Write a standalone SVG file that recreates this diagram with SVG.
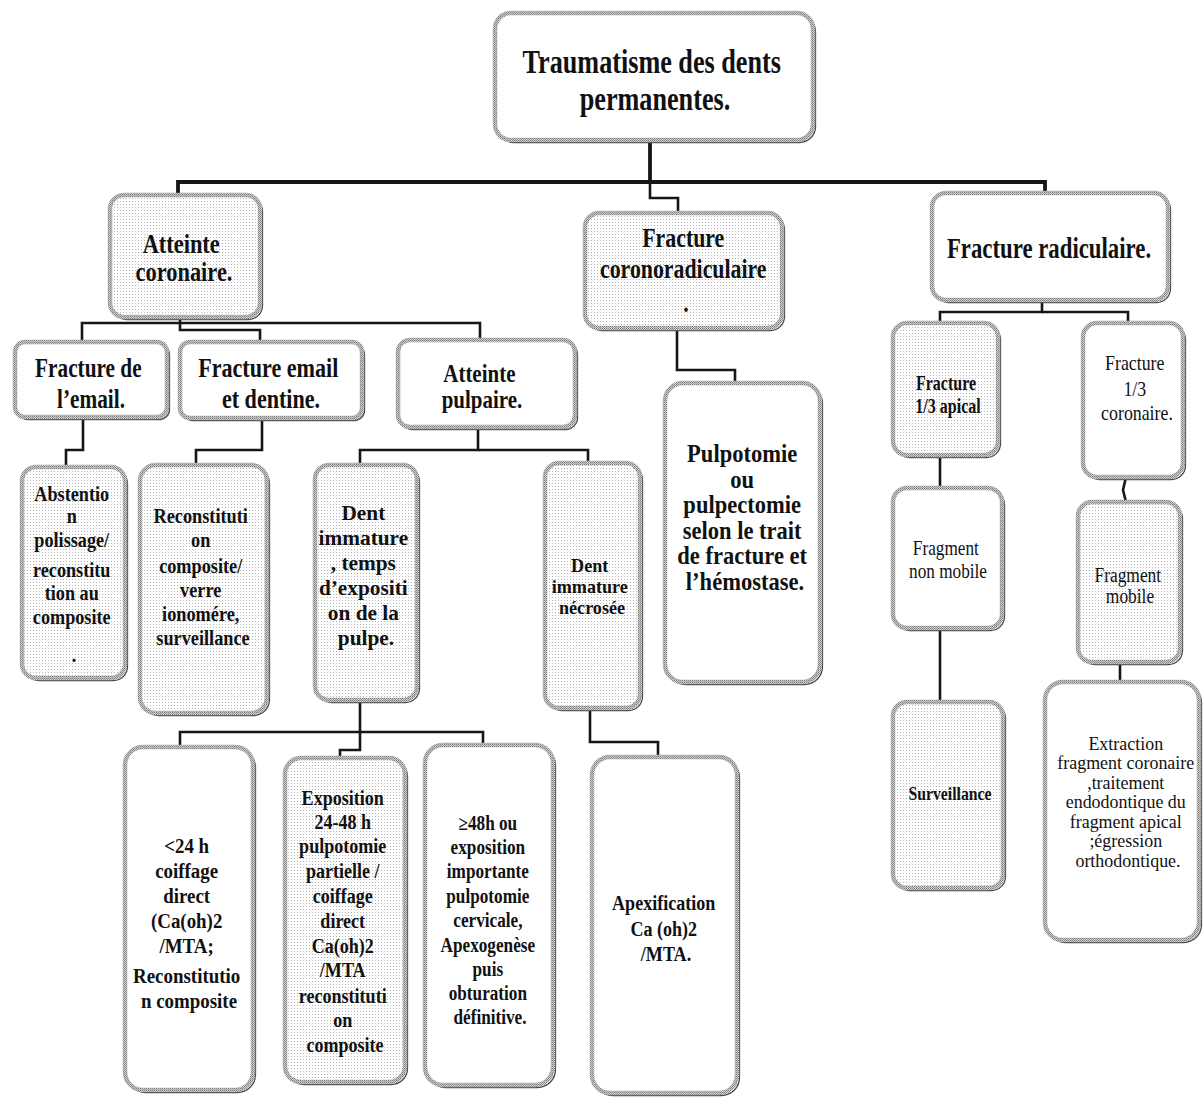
<svg xmlns="http://www.w3.org/2000/svg" width="1204" height="1097" viewBox="0 0 1204 1097">
  <defs>
    <!-- light halftone fill used by the shaded boxes -->
    <pattern id="dots" width="3" height="3" patternUnits="userSpaceOnUse">
      <rect width="3" height="3" fill="#ffffff"/>
      <rect width="1" height="1" fill="#b4b4b4"/>
    </pattern>
    <!-- grainy grey used for the box borders -->
    <pattern id="grain" width="2" height="2" patternUnits="userSpaceOnUse">
      <rect width="2" height="2" fill="#cdcdcd"/>
      <rect width="1" height="1" fill="#7c7c7c"/>
      <rect x="1" y="1" width="1" height="1" fill="#9a9a9a"/>
    </pattern>
  </defs>
  <style>
    .shadow { fill: none; stroke: #4a4a4a; stroke-width: 1.3; }
    .box { stroke: url(#grain); stroke-width: 4.5; }
    .plain { fill: #ffffff; }
    .shaded { fill: url(#dots); }
    .t { font-family: "Liberation Serif", "Times New Roman", serif; font-weight: bold; text-anchor: middle; fill: #111111; }
    .reg { font-weight: normal; }
    .link { fill: none; stroke: #161616; stroke-width: 2.6; stroke-linejoin: miter; }
    .trunk { stroke-width: 3.8; }
  </style>
  <rect width="1204" height="1097" fill="#ffffff"/>

  <!-- connectors -->
  <g id="connectors">
    <path class="link trunk" d="M650,140 V182 H178 V195"/>
    <path class="link trunk" d="M650,182 H1045 V193"/>
    <path class="link" d="M650,182 V198 H678 V212"/>
    <path class="link" d="M180,317 V323 H82 V342"/>
    <path class="link" d="M180,323 H480 V340"/>
    <path class="link" d="M180,323 V330 H260 V342"/>
    <path class="link" d="M83,417 V450 H66 V467"/>
    <path class="link" d="M262,418 V450 H196 V465"/>
    <path class="link" d="M478,427 V450 H360 V465"/>
    <path class="link" d="M478,450 H588 V463"/>
    <path class="link" d="M677,328 V370 H735 V383"/>
    <path class="link" d="M1042,300 V312 H940 V323"/>
    <path class="link" d="M1042,312 H1128 V323"/>
    <path class="link" d="M940,455 V488"/>
    <path class="link" d="M940,628 V702"/>
    <path class="link" d="M1126,477 L1123,490 L1126,502"/>
    <path class="link" d="M1120,662 V682"/>
    <path class="link" d="M360,700 V732 H180 V747"/>
    <path class="link" d="M360,732 H483 V745"/>
    <path class="link" d="M360,732 V750 H340 V758"/>
    <path class="link" d="M590,708 V742 H658 V757"/>
  </g>

  <!-- root -->
  <g id="root">
    <rect class="shadow" x="497.5" y="15.5" width="318" height="127" rx="16"/>
    <rect class="box plain" x="495" y="13" width="318" height="127" rx="16"/>
    <text class="t" font-size="34" transform="translate(655 0) scale(0.77 1)">
      <tspan x="0" y="73">Traumatisme des dents</tspan>
      <tspan x="0" y="110">permanentes.</tspan>
    </text>
  </g>

  <g id="atteinte-coronaire">
    <rect class="shadow" x="112.5" y="197.5" width="150" height="122" rx="14"/>
    <rect class="box shaded" x="110" y="195" width="150" height="122" rx="14"/>
    <text class="t" font-size="27" transform="translate(184 0) scale(0.83 1)">
      <tspan x="0" y="253">Atteinte</tspan>
      <tspan x="0" y="281">coronaire.</tspan>
    </text>
  </g>

  <g id="fracture-coronoradiculaire">
    <rect class="shadow" x="587.5" y="215.5" width="197" height="115" rx="14"/>
    <rect class="box shaded" x="585" y="213" width="197" height="115" rx="14"/>
    <text class="t" font-size="28" transform="translate(686 0) scale(0.78 1)">
      <tspan x="0" y="247">Fracture</tspan>
      <tspan x="0" y="278">coronoradiculaire</tspan>
      <tspan x="0" y="312">.</tspan>
    </text>
  </g>

  <g id="fracture-radiculaire">
    <rect class="shadow" x="934.5" y="195.5" width="236" height="107" rx="14"/>
    <rect class="box plain" x="932" y="193" width="236" height="107" rx="14"/>
    <text class="t" font-size="30" transform="translate(1049 0) scale(0.76 1)">
      <tspan x="0" y="258">Fracture radiculaire.</tspan>
    </text>
  </g>

  <g id="fracture-email">
    <rect class="shadow" x="17.5" y="344.5" width="152" height="75" rx="10"/>
    <rect class="box plain" x="15" y="342" width="152" height="75" rx="10"/>
    <text class="t" font-size="28" transform="translate(91 0) scale(0.76 1)">
      <tspan x="0" y="377">Fracture de</tspan>
      <tspan x="0" y="408">l’email.</tspan>
    </text>
  </g>

  <g id="fracture-email-dentine">
    <rect class="shadow" x="182.5" y="344.5" width="182" height="76" rx="10"/>
    <rect class="box plain" x="180" y="342" width="182" height="76" rx="10"/>
    <text class="t" font-size="28" transform="translate(271 0) scale(0.79 1)">
      <tspan x="0" y="377">Fracture email</tspan>
      <tspan x="0" y="408">et dentine.</tspan>
    </text>
  </g>

  <g id="atteinte-pulpaire">
    <rect class="shadow" x="400.5" y="342.5" width="177" height="87" rx="12"/>
    <rect class="box plain" x="398" y="340" width="177" height="87" rx="12"/>
    <text class="t" font-size="25" transform="translate(482 0) scale(0.84 1)">
      <tspan x="0" y="382">Atteinte</tspan>
      <tspan x="0" y="408">pulpaire.</tspan>
    </text>
  </g>

  <g id="abstention">
    <rect class="shadow" x="24.5" y="469.5" width="103" height="211" rx="14"/>
    <rect class="box shaded" x="22" y="467" width="103" height="211" rx="14"/>
    <text class="t" font-size="20" transform="translate(74 0) scale(0.91 1)">
      <tspan x="0" y="501">Abstentio</tspan>
      <tspan x="0" y="523">n</tspan>
      <tspan x="0" y="547">polissage/</tspan>
      <tspan x="0" y="577">reconstitu</tspan>
      <tspan x="0" y="600">tion au</tspan>
      <tspan x="0" y="624">composite</tspan>
      <tspan x="0" y="662">.</tspan>
    </text>
  </g>

  <g id="reconstitution">
    <rect class="shadow" x="142.5" y="467.5" width="127" height="248" rx="16"/>
    <rect class="box shaded" x="140" y="465" width="127" height="248" rx="16"/>
    <text class="t" font-size="21" transform="translate(203 0) scale(0.87 1)">
      <tspan x="0" y="523">Reconstituti</tspan>
      <tspan x="0" y="547">on</tspan>
      <tspan x="0" y="573">composite/</tspan>
      <tspan x="0" y="597">verre</tspan>
      <tspan x="0" y="621">ionomére,</tspan>
      <tspan x="0" y="645">surveillance</tspan>
    </text>
  </g>

  <g id="dent-immature">
    <rect class="shadow" x="317.5" y="467.5" width="102" height="235" rx="14"/>
    <rect class="box shaded" x="315" y="465" width="102" height="235" rx="14"/>
    <text class="t" font-size="22" transform="translate(366 0) scale(0.97 1)">
      <tspan x="0" y="520">Dent</tspan>
      <tspan x="0" y="545">immature</tspan>
      <tspan x="0" y="570">, temps</tspan>
      <tspan x="0" y="595">d’expositi</tspan>
      <tspan x="0" y="620">on de la</tspan>
      <tspan x="0" y="645">pulpe.</tspan>
    </text>
  </g>

  <g id="dent-necrosee">
    <rect class="shadow" x="547.5" y="465.5" width="95" height="245" rx="14"/>
    <rect class="box shaded" x="545" y="463" width="95" height="245" rx="14"/>
    <text class="t" font-size="19.5" transform="translate(592 0) scale(0.93 1)">
      <tspan x="0" y="572">Dent</tspan>
      <tspan x="0" y="593">immature</tspan>
      <tspan x="0" y="614">nécrosée</tspan>
    </text>
  </g>

  <g id="pulpotomie">
    <rect class="shadow" x="667.5" y="385.5" width="155" height="299" rx="18"/>
    <rect class="box plain" x="665" y="383" width="155" height="299" rx="18"/>
    <text class="t" font-size="24.5" transform="translate(745 0) scale(0.92 1)">
      <tspan x="0" y="462">Pulpotomie</tspan>
      <tspan x="0" y="487.6">ou</tspan>
      <tspan x="0" y="513.2">pulpectomie</tspan>
      <tspan x="0" y="538.8">selon le trait</tspan>
      <tspan x="0" y="564.4">de fracture et</tspan>
      <tspan x="0" y="590">l’hémostase.</tspan>
    </text>
  </g>

  <g id="fracture-apical">
    <rect class="shadow" x="895.5" y="325.5" width="105" height="132" rx="14"/>
    <rect class="box shaded" x="893" y="323" width="105" height="132" rx="14"/>
    <text class="t" font-size="20" transform="translate(948 0) scale(0.8 1)">
      <tspan x="0" y="390">Fracture</tspan>
      <tspan x="0" y="413">1/3 apical</tspan>
    </text>
  </g>

  <g id="fracture-coronaire">
    <rect class="shadow" x="1085.5" y="325.5" width="100" height="154" rx="14"/>
    <rect class="box plain" x="1083" y="323" width="100" height="154" rx="14"/>
    <text class="t reg" font-size="21" transform="translate(1137 0) scale(0.85 1)">
      <tspan x="0" y="370">Fracture</tspan>
      <tspan x="0" y="396">1/3</tspan>
      <tspan x="0" y="420">coronaire.</tspan>
    </text>
  </g>

  <g id="fragment-non-mobile">
    <rect class="shadow" x="895.5" y="490.5" width="109" height="140" rx="14"/>
    <rect class="box plain" x="893" y="488" width="109" height="140" rx="14"/>
    <text class="t reg" font-size="21" transform="translate(948 0) scale(0.82 1)">
      <tspan x="0" y="555">Fragment</tspan>
      <tspan x="0" y="578">non mobile</tspan>
    </text>
  </g>

  <g id="surveillance">
    <rect class="shadow" x="895.5" y="704.5" width="110" height="186" rx="14"/>
    <rect class="box shaded" x="893" y="702" width="110" height="186" rx="14"/>
    <text class="t" font-size="19" transform="translate(950 0) scale(0.83 1)">
      <tspan x="0" y="800">Surveillance</tspan>
    </text>
  </g>

  <g id="fragment-mobile">
    <rect class="shadow" x="1080.5" y="504.5" width="102" height="160" rx="14"/>
    <rect class="box shaded" x="1078" y="502" width="102" height="160" rx="14"/>
    <text class="t reg" font-size="20" transform="translate(1130 0) scale(0.87 1)">
      <tspan x="0" y="582">Fragment</tspan>
      <tspan x="0" y="603">mobile</tspan>
    </text>
  </g>

  <g id="extraction">
    <rect class="shadow" x="1047.5" y="684.5" width="154" height="258" rx="18"/>
    <rect class="box plain" x="1045" y="682" width="154" height="258" rx="18"/>
    <text class="t reg" font-size="18.5" transform="translate(1128 0) scale(0.97 1)">
      <tspan x="0" y="750">Extraction</tspan>
      <tspan x="0" y="769.5">fragment coronaire</tspan>
      <tspan x="0" y="789">,traitement</tspan>
      <tspan x="0" y="808.5">endodontique du</tspan>
      <tspan x="0" y="828">fragment apical</tspan>
      <tspan x="0" y="847.5">;égression</tspan>
      <tspan x="0" y="867">orthodontique.</tspan>
    </text>
  </g>

  <g id="moins-24h">
    <rect class="shadow" x="127.5" y="749.5" width="128" height="343" rx="18"/>
    <rect class="box plain" x="125" y="747" width="128" height="343" rx="18"/>
    <text class="t" font-size="22" transform="translate(189 0) scale(0.86 1)">
      <tspan x="0" y="853">&lt;24 h</tspan>
      <tspan x="0" y="878">coiffage</tspan>
      <tspan x="0" y="903">direct</tspan>
      <tspan x="0" y="928">(Ca(oh)2</tspan>
      <tspan x="0" y="953">/MTA;</tspan>
      <tspan x="0" y="983">Reconstitutio</tspan>
      <tspan x="0" y="1008">n composite</tspan>
    </text>
  </g>

  <g id="exposition">
    <rect class="shadow" x="287.5" y="760.5" width="120" height="324" rx="16"/>
    <rect class="box shaded" x="285" y="758" width="120" height="324" rx="16"/>
    <text class="t" font-size="21" transform="translate(345 0) scale(0.86 1)">
      <tspan x="0" y="805">Exposition</tspan>
      <tspan x="0" y="829">24-48 h</tspan>
      <tspan x="0" y="853">pulpotomie</tspan>
      <tspan x="0" y="878">partielle /</tspan>
      <tspan x="0" y="903">coiffage</tspan>
      <tspan x="0" y="928">direct</tspan>
      <tspan x="0" y="953">Ca(oh)2</tspan>
      <tspan x="0" y="977">/MTA</tspan>
      <tspan x="0" y="1003">reconstituti</tspan>
      <tspan x="0" y="1027">on</tspan>
      <tspan x="0" y="1052">composite</tspan>
    </text>
  </g>

  <g id="plus-48h">
    <rect class="shadow" x="427.5" y="747.5" width="128" height="340" rx="18"/>
    <rect class="box plain" x="425" y="745" width="128" height="340" rx="18"/>
    <text class="t" font-size="20" transform="translate(490 0) scale(0.86 1)">
      <tspan x="0" y="830">≥48h ou</tspan>
      <tspan x="0" y="854">exposition</tspan>
      <tspan x="0" y="878">importante</tspan>
      <tspan x="0" y="903">pulpotomie</tspan>
      <tspan x="0" y="927">cervicale,</tspan>
      <tspan x="0" y="952">Apexogenèse</tspan>
      <tspan x="0" y="976">puis</tspan>
      <tspan x="0" y="1000">obturation</tspan>
      <tspan x="0" y="1024">définitive.</tspan>
    </text>
  </g>

  <g id="apexification">
    <rect class="shadow" x="594.5" y="759.5" width="145" height="336" rx="18"/>
    <rect class="box plain" x="592" y="757" width="145" height="336" rx="18"/>
    <text class="t" font-size="21" transform="translate(666 0) scale(0.86 1)">
      <tspan x="0" y="910">Apexification</tspan>
      <tspan x="0" y="936">Ca (oh)2</tspan>
      <tspan x="0" y="961">/MTA.</tspan>
    </text>
  </g>
</svg>
